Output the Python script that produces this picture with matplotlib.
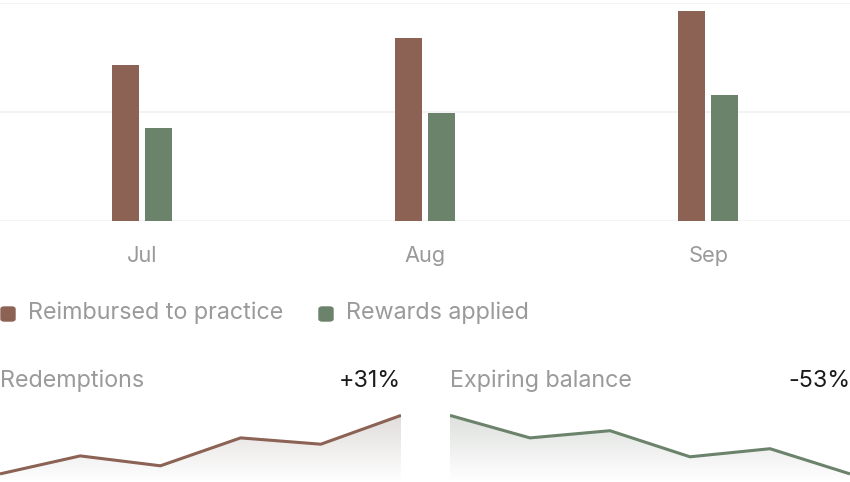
import numpy as np
import matplotlib

matplotlib.use("Agg")
import matplotlib.pyplot as plt

plt.rcParams["font.family"] = ["Inter", "DejaVu Sans"]

MONTHS = ["Jul", "Aug", "Sep"]
REIMBURSED = [14.3, 16.8, 19.3]
REWARDS = [8.5, 9.9, 11.6]
SERIES_LABELS = ["Reimbursed to practice", "Rewards applied"]

REDEMPTIONS = [9, 29, 18, 49, 42, 74]
EXPIRING = [74, 49, 57, 28, 37, 9]
SPARK_TITLES = ["Redemptions", "Expiring balance"]
SPARK_CHANGES = ["+31%", "-53%"]

BROWN = "#8b6254"
GREEN = "#6b826b"
GREY = "#9a9a9a"

W, H = 850, 482
fig = plt.figure(figsize=(W / 100, H / 100), dpi=100)


def frac(x0, y0, x1, y1):
    # pixel box (top-left origin) -> figure fraction rect
    return [x0 / W, 1 - y1 / H, (x1 - x0) / W, (y1 - y0) / H]


# bar chart
ax = fig.add_axes(frac(0, 3, 850, 221))
x = np.arange(len(MONTHS))
bw = 0.095
ax.bar(x - bw / 2 - 0.011, REIMBURSED, bw, color=BROWN, zorder=3)
ax.bar(x + bw / 2 + 0.011, REWARDS, bw, color=GREEN, zorder=3)
ax.set_xlim(-0.5, 2.5)
ax.set_ylim(0, 20)
for gy in (0, 10, 20):
    ax.axhline(gy, color="#f3f3f3", lw=1.5, zorder=1)
for s in ax.spines.values():
    s.set_visible(False)
ax.set_yticks([])
ax.set_xticks(x)
ax.set_xticklabels(MONTHS, color=GREY, fontsize=15.7)
ax.tick_params(axis="x", length=0, pad=18)

# legend
for lx, label, c in [(0, SERIES_LABELS[0], BROWN), (318, SERIES_LABELS[1], GREEN)]:
    fig.patches.append(matplotlib.patches.FancyBboxPatch(
        ((lx + 1) / W, 1 - 321 / H), 14 / W, 14 / H,
        boxstyle="round,pad=0,rounding_size=0.004", transform=fig.transFigure,
        color=c, figure=fig))
    fig.text((lx + 28) / W, 1 - 313 / H, label, color=GREY, fontsize=16.8,
             va="center", ha="left")


def spark(x0, x1, values, color, title, change):
    sa = fig.add_axes(frac(x0, 410, x1, 482))
    xs = np.arange(len(values))
    sa.set_xlim(0, len(values) - 1)
    sa.set_ylim(0, 80)
    sa.axis("off")
    poly = sa.fill_between(xs, values, 0, color="none")
    grad = np.zeros((100, 1, 4))
    rgb = matplotlib.colors.to_rgb("#b0a8a4" if color == BROWN else "#a8b0a8")
    grad[..., :3] = rgb
    grad[:, 0, 3] = np.linspace(0.0, 0.42, 100)
    im = sa.imshow(grad, extent=[0, len(values) - 1, 0, 80], origin="lower",
                   aspect="auto", zorder=1)
    im.set_clip_path(poly.get_paths()[0], transform=sa.transData)
    sa.plot(xs, values, color=color, lw=2.2, zorder=3, solid_capstyle="butt")
    fig.text(x0 / W, 1 - 381 / H, title, color=GREY, fontsize=16.8,
             va="center", ha="left")
    fig.text(x1 / W, 1 - 381 / H, change, color="#1a1a1a", fontsize=16.8,
             va="center", ha="right")


spark(0, 401, REDEMPTIONS, BROWN, SPARK_TITLES[0], SPARK_CHANGES[0])
spark(450, 850, EXPIRING, GREEN, SPARK_TITLES[1], SPARK_CHANGES[1])

fig.savefig("out.png", dpi=100)
